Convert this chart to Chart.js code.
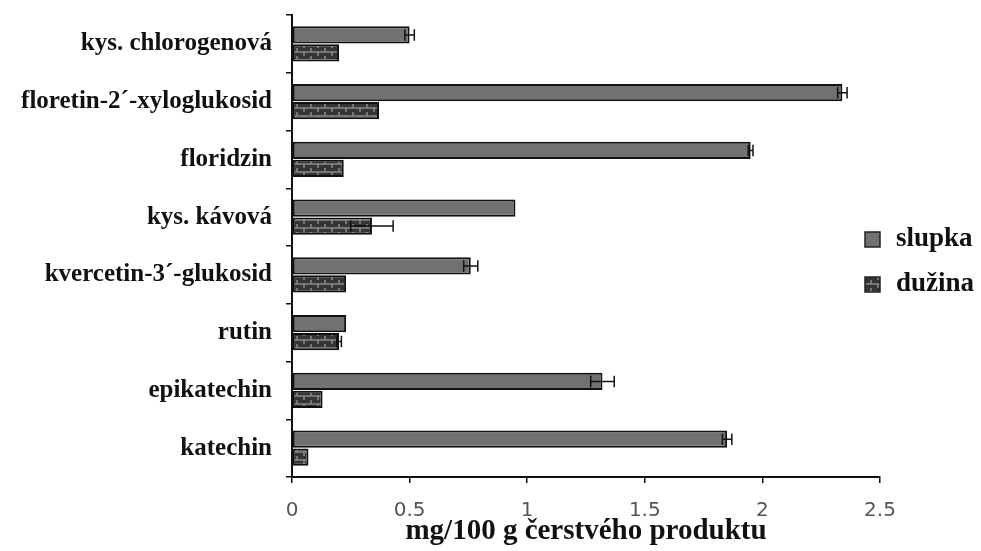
<!DOCTYPE html>
<html><head><meta charset="utf-8">
<script src="https://cdn.jsdelivr.net/npm/chart.js@4.4.0/dist/chart.umd.min.js"></script>
<style>html,body{margin:0;padding:0;background:#fff}#wrap{width:981px;height:551px;position:relative}</style>
</head><body><div id="wrap"><canvas id="c"></canvas></div>
<script>
const categories = ['kys. chlorogenová','floretin-2´-xyloglukosid','floridzin','kys. kávová','kvercetin-3´-glukosid','rutin','epikatechin','katechin'];
const seriesLabels = ['slupka','dužina'];
const slupka =    [0.50, 2.34, 1.95, 0.95, 0.76, 0.23, 1.32, 1.85];
const slupkaErr = [0.02, 0.02, 0.01, 0.00, 0.03, 0.00, 0.05, 0.02];
const duzina =    [0.20, 0.37, 0.22, 0.34, 0.23, 0.20, 0.13, 0.07];
const duzinaErr = [0.00, 0.00, 0.00, 0.09, 0.00, 0.01, 0.00, 0.00];
const xTicks = [0, 0.5, 1, 1.5, 2, 2.5];
const axisTitle = 'mg/100 g čerstvého produktu';

const canvas = document.getElementById('c');
const ctx = canvas.getContext('2d');
function makePattern(){
  const c = document.createElement('canvas'); c.width = 14; c.height = 8;
  const g = c.getContext('2d');
  g.fillStyle = '#353535'; g.fillRect(0,0,14,8);
  g.strokeStyle = '#8a8a8a'; g.lineWidth = 1.5;
  g.beginPath(); g.moveTo(0,4); g.lineTo(14,4); g.stroke();
  g.beginPath(); g.moveTo(3,0); g.lineTo(3,4); g.moveTo(10,4); g.lineTo(10,8); g.stroke();
  return ctx.createPattern(c, 'repeat');
}
const pat = makePattern();
const fills = ['#717171', pat];
const errs = [slupkaErr, duzinaErr];

const errorBars = {
  id: 'errorBars',
  afterDatasetsDraw(chart){
    const c = chart.ctx, xs = chart.scales.x;
    c.save();
    c.strokeStyle = '#111'; c.lineWidth = 1.5;
    chart.data.datasets.forEach((ds, i) => {
      const meta = chart.getDatasetMeta(i);
      meta.data.forEach((bar, j) => {
        const e = errs[i][j];
        if (!e) return;
        const v = ds.data[j];
        const x1 = xs.getPixelForValue(v - e), x2 = xs.getPixelForValue(v + e);
        const y = bar.y, h = bar.height * 0.33;
        c.beginPath();
        c.moveTo(x1, y); c.lineTo(x2, y);
        c.moveTo(x1, y - h); c.lineTo(x1, y + h);
        c.moveTo(x2, y - h); c.lineTo(x2, y + h);
        c.stroke();
      });
    });
    c.restore();
  }
};

const customLegend = {
  id: 'customLegend',
  afterDraw(chart){
    const c = chart.ctx;
    c.save();
    const ys = [239, 284];
    chart.data.datasets.forEach((ds, i) => {
      const y = ys[i];
      c.fillStyle = ds.backgroundColor;
      c.fillRect(865, y - 7, 15, 15);
      c.strokeStyle = '#222'; c.lineWidth = 1.5;
      c.strokeRect(865, y - 7, 15, 15);
      c.fillStyle = '#111';
      c.font = 'bold 27px "Liberation Serif", serif';
      c.textBaseline = 'middle';
      c.textAlign = 'left';
      c.fillText(ds.label, 896, y);
    });
    c.restore();
  }
};

new Chart(canvas, {
  type: 'bar',
  data: {
    labels: categories,
    datasets: [
      { label: seriesLabels[0], data: slupka, backgroundColor: fills[0], borderColor: '#111', borderWidth: 2, borderSkipped: false },
      { label: seriesLabels[1], data: duzina, backgroundColor: fills[1], borderColor: '#111', borderWidth: 2, borderSkipped: false }
    ]
  },
  options: {
    indexAxis: 'y',
    responsive: true,
    maintainAspectRatio: false,
    animation: false,
    categoryPercentage: 0.62,
    barPercentage: 0.97,
    layout: { padding: { top: 15, right: 101, left: 0, bottom: 0 } },
    plugins: { legend: { display: false }, tooltip: { enabled: false } },
    scales: {
      x: {
        min: 0, max: 2.5,
        afterBuildTicks(scale){ scale.ticks = xTicks.map(v => ({ value: v })); },
        afterFit(scale){ scale.height = 74; },
        border: { display: true, color: '#111', width: 2 },
        grid: { display: true, drawOnChartArea: false, drawTicks: true, tickLength: 6, color: '#111', lineWidth: 1.5 },
        ticks: { color: '#555', font: { family: '"DejaVu Sans", sans-serif', size: 20 }, padding: 16, maxRotation: 0,
                 callback: v => String(v) },
        title: { display: true, text: axisTitle, color: '#111', font: { family: '"Liberation Serif", serif', size: 29, weight: 'bold' }, padding: { top: 0, bottom: 2 } }
      },
      y: {
        afterFit(scale){ scale.width = 292; scale.paddingTop = 0; scale.paddingBottom = 0; },
        border: { display: true, color: '#111', width: 2 },
        grid: { display: true, drawOnChartArea: false, drawTicks: true, tickLength: 6, color: '#111', lineWidth: 1.5, offset: true },
        ticks: { color: '#111', font: { family: '"Liberation Serif", serif', size: 25, weight: 'bold' }, padding: 14 }
      }
    }
  },
  plugins: [errorBars, customLegend]
});
</script>
</body></html>
